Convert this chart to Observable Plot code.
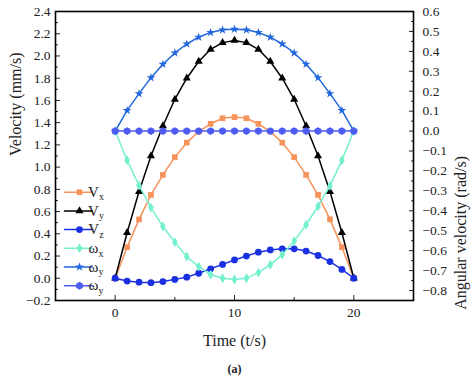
<!DOCTYPE html>
<html><head><meta charset="utf-8">
<script src="https://cdn.jsdelivr.net/npm/d3@7"></script>
<script src="https://cdn.jsdelivr.net/npm/@observablehq/plot@0.6"></script>
<style>body{margin:0;background:#fff}</style>
</head><body><div id="chart"></div>
<script>
// ---------- data ----------
const time = [0,1,2,3,4,5,6,7,8,9,10,11,12,13,14,15,16,17,18,19,20];
const vx = [0,0.28,0.53,0.75,0.93,1.09,1.22,1.32,1.39,1.44,1.45,1.44,1.39,1.32,1.22,1.09,0.93,0.75,0.53,0.28,0];
const vy = [0,0.41,0.78,1.10,1.37,1.61,1.80,1.95,2.06,2.12,2.14,2.12,2.06,1.95,1.80,1.61,1.37,1.10,0.78,0.41,0];
const vz = [0,-0.025,-0.035,-0.04,-0.03,-0.01,0.01,0.045,0.085,0.125,0.165,0.2,0.235,0.255,0.265,0.265,0.245,0.205,0.15,0.08,0];
const wx = [0,-0.146,-0.273,-0.384,-0.479,-0.557,-0.63,-0.68,-0.72,-0.738,-0.745,-0.738,-0.71,-0.67,-0.62,-0.552,-0.47,-0.377,-0.275,-0.146,0];
const wy = [0,0.104,0.188,0.268,0.335,0.392,0.437,0.471,0.495,0.508,0.511,0.508,0.495,0.471,0.437,0.392,0.335,0.268,0.188,0.104,0];
const wz = [0,0,0,0,0,0,0,0,0,0,0,0,0,0,0,0,0,0,0,0,0];

const leftTicks = [-0.2,0,0.2,0.4,0.6,0.8,1.0,1.2,1.4,1.6,1.8,2.0,2.2,2.4];
const leftMinor = [-0.1,0.1,0.3,0.5,0.7,0.9,1.1,1.3,1.5,1.7,1.9,2.1,2.3];
const rightTicks = [-0.8,-0.7,-0.6,-0.5,-0.4,-0.3,-0.2,-0.1,0,0.1,0.2,0.3,0.4,0.5,0.6];
const rightMinor = [-0.85,-0.75,-0.65,-0.55,-0.45,-0.35,-0.25,-0.15,-0.05,0.05,0.15,0.25,0.35,0.45,0.55];
const xTicks = [0,10,20];
const xMinor = [5,15];

const leftDomain = [-0.2, 2.4];
const rightDomain = [-0.85, 0.6];
const xDomain = [-5, 25];

// series: name parts, which axis
const seriesMain = ["V","V","V","ω","ω","ω"];
const seriesSub = ["x","y","z","x","y","y"];
const seriesValues = [vx, vy, vz, wx, wy, wz];
const seriesAxis = ["left","left","left","right","right","right"];

// styles
const colors = ["#f5935a","#000000","#1a30e0","#74f0cf","#2268dc","#4d5cf0"];
const symbols = ["square","triangle","circle","diamond","star","hexagon"];
const radii = [3.2,3.0,3.4,3.0,2.8,3.4];
const FONT = "'Liberation Serif', 'DejaVu Serif', serif";

// right axis -> left axis linear map
const toLeft = r => leftDomain[0] + (r - rightDomain[0]) * (leftDomain[1]-leftDomain[0])/(rightDomain[1]-rightDomain[0]);
const fmt = d => (d < 0 ? "\u2212" : "") + Math.abs(d).toFixed(1);

const rows = [];
seriesValues.forEach((vals, s) => {
  vals.forEach((v, i) => rows.push({s, t: time[i], y: seriesAxis[s] === "right" ? toLeft(v) : v}));
});

const seriesMarks = [];
seriesValues.forEach((_, s) => {
  const data = rows.filter(r => r.s === s);
  seriesMarks.push(Plot.line(data, {x: "t", y: "y", stroke: colors[s], strokeWidth: 1.5}));
  seriesMarks.push(Plot.dot(data, {x: "t", y: "y", symbol: symbols[s], r: radii[s], fill: colors[s], stroke: "none"}));
});

// legend marks (positioned relative to frame)
const legX0 = 9, legLen = 28, legY0 = 180.7, legStep = 18.7;
const lineShape = {draw(ctx, l) { ctx.moveTo(0, 0); ctx.lineTo(0, -l); }};
const legendMarks = [];
seriesValues.forEach((_, s) => {
  legendMarks.push(Plot.vector([s], {frameAnchor: "top-left", dx: legX0, dy: legY0 + s*legStep, rotate: 90, length: legLen, anchor: "start", shape: lineShape, stroke: colors[s], strokeWidth: 1.5}));
  legendMarks.push(Plot.dot([s], {frameAnchor: "top-left", dx: legX0 + legLen/2 + 1, dy: legY0 + s*legStep, symbol: symbols[s], r: radii[s], fill: colors[s], stroke: "none"}));
});

const chart = Plot.plot({
  width: 474, height: 387,
  marginLeft: 55, marginRight: 61, marginTop: 11, marginBottom: 87,
  style: {fontFamily: FONT, fontSize: "13.5px", color: "#222", background: "#fff"},
  x: {domain: xDomain, label: null},
  y: {domain: leftDomain, label: null},
  marks: [
    ...seriesMarks,
    // left axis
    Plot.axisY(leftTicks, {anchor: "left", tickSize: -5, tickFormat: () => "", label: null}),
    Plot.axisY(leftMinor, {anchor: "left", tickSize: -3, tickFormat: () => "", label: null}),
    Plot.axisY(leftTicks, {anchor: "left", tickSize: 0, tickPadding: 5, tickFormat: fmt, label: null, fontSize: 13.5, fill: "#222"}),
    // right axis
    Plot.axisY(rightTicks, {anchor: "right", y: toLeft, tickSize: -5, tickFormat: () => "", label: null}),
    Plot.axisY(rightMinor, {anchor: "right", y: toLeft, tickSize: -3, tickFormat: () => "", label: null}),
    Plot.axisY(rightTicks, {anchor: "right", y: toLeft, tickSize: 0, tickPadding: 9, tickFormat: fmt, label: null, fontSize: 13.5, fill: "#222"}),
    // x axis
    Plot.axisX(xTicks, {anchor: "bottom", tickSize: -5, tickFormat: () => "", label: null}),
    Plot.axisX(xMinor, {anchor: "bottom", tickSize: -3, tickFormat: () => "", label: null}),
    Plot.axisX(xTicks, {anchor: "bottom", tickSize: 0, tickPadding: 7, tickFormat: d => String(d), label: null, fontSize: 13.5, fill: "#222"}),
    Plot.frame({stroke: "#000", strokeWidth: 1.6}),
    // titles
    Plot.text(["Velocity (mm/s)"], {text: d => d, frameAnchor: "left", dx: -40, rotate: -90, fontSize: 16, fill: "#222"}),
    Plot.text(["Angular velocity (rad/s)"], {text: d => d, frameAnchor: "right", dx: 47, rotate: -90, fontSize: 16, fill: "#222"}),
    Plot.text(["Time (t/s)"], {text: d => d, frameAnchor: "bottom", dy: 45, fontSize: 16, fill: "#222"}),
    Plot.text(["(a)"], {text: d => d, frameAnchor: "bottom", dy: 72, fontSize: 12, fontWeight: "bold", fill: "#222"}),
    ...legendMarks
  ]
});
document.getElementById("chart").appendChild(chart);

// legend labels with subscripts
const svg = d3.select(chart);
const g = svg.append("g").attr("font-family", FONT).attr("font-size", 15).attr("fill", "#222");
seriesMain.forEach((m, s) => {
  const t = g.append("text")
    .attr("x", 55 + legX0 + legLen + 4)
    .attr("y", 11 + legY0 + s*legStep)
    .attr("dy", "0.35em");
  t.append("tspan").text(m);
  t.append("tspan").attr("font-size", 10).attr("dy", "0.35em").text(seriesSub[s]);
});
</script>
</body></html>
